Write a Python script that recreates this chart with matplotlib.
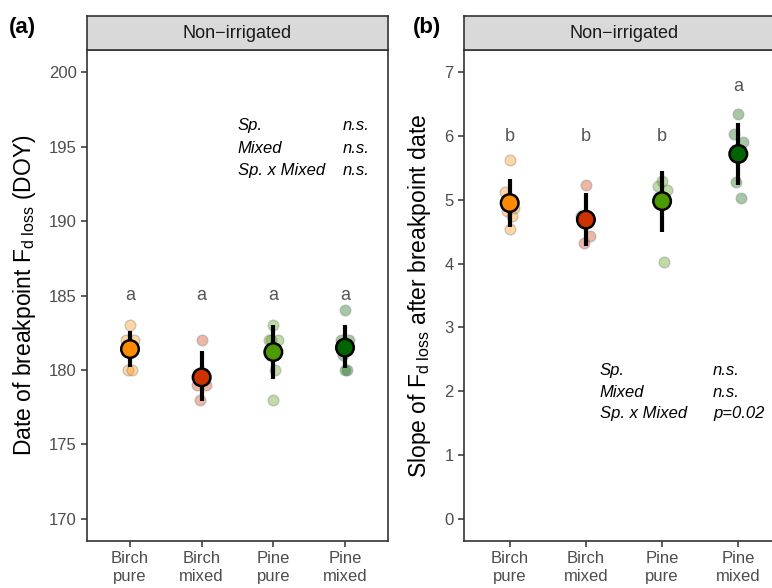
import matplotlib
matplotlib.use("Agg")
import matplotlib.pyplot as plt
import numpy as np

plt.rcParams['font.family'] = ['Liberation Sans', 'DejaVu Sans']
plt.rcParams['mathtext.fontset'] = 'custom'
plt.rcParams['mathtext.rm'] = 'Liberation Sans'
plt.rcParams['mathtext.it'] = 'Liberation Sans:italic'

# ---------------- data ----------------
categories = ["Birch\npure", "Birch\nmixed", "Pine\npure", "Pine\nmixed"]
mean_colors = ["#FF8C00", "#CC3300", "#4C9900", "#006400"]

# panel (a): date of breakpoint (DOY)
a_points = [
    [183, 182, 182, 180, 180],
    [182, 179, 179, 178],
    [183, 182, 182, 182, 180, 178],
    [184, 182, 182, 181, 180, 180],
]
a_mean = [181.4, 179.5, 181.2, 181.5]
a_low = [180.2, 177.9, 179.4, 180.1]
a_high = [182.6, 181.3, 183.0, 183.0]
a_letters = ["a", "a", "a", "a"]
a_letter_y = 185.0
a_stats = [("Sp.", "n.s."), ("Mixed", "n.s."), ("Sp. x Mixed", "n.s.")]

# panel (b): slope after breakpoint date
b_points = [
    [5.62, 5.13, 4.88, 4.82, 4.75, 4.55],
    [5.23, 4.75, 4.44, 4.32],
    [5.30, 5.22, 5.15, 5.05, 4.02],
    [6.35, 6.04, 5.90, 5.28, 5.03],
]
b_mean = [4.95, 4.69, 4.98, 5.72]
b_low = [4.58, 4.28, 4.49, 5.24]
b_high = [5.33, 5.10, 5.46, 6.21]
b_letters = ["b", "b", "b", "a"]
b_letter_y = [6.0, 6.0, 6.0, 6.77]
b_stats = [("Sp.", "n.s."), ("Mixed", "n.s."), ("Sp. x Mixed", "p=0.02")]

# ---------------- figure ----------------
W, H = 772, 588
fig = plt.figure(figsize=(W / 100, H / 100), dpi=100)

def fx(px):
    return px / W

def fy(py):
    return 1 - py / H

dark = "#333333"
tickgray = "#4D4D4D"
jit = [0.0, -0.06, 0.06, -0.03, 0.03, 0.0]


def panel(left, right, top, bottom, points, mean, low, high, ylim, yticks,
          ylabel, letters, letter_y, tag, tag_x):
    ax = fig.add_axes([fx(left), fy(bottom), fx(right - left), (bottom - top) / H])
    x = np.arange(len(categories))
    for i, pts in enumerate(points):
        xs = [x[i] + jit[k % len(jit)] for k in range(len(pts))]
        ax.scatter(xs, pts, s=60, facecolor=mean_colors[i], alpha=0.35,
                   edgecolor="#777777", linewidth=1.0, zorder=2)
    for i in range(len(categories)):
        ax.plot([x[i], x[i]], [low[i], high[i]], color="black", lw=3,
                solid_capstyle="butt", zorder=3)
    ax.scatter(x, mean, s=160, c=mean_colors, edgecolor="black",
               linewidth=1.8, zorder=4)
    ly = letter_y if isinstance(letter_y, list) else [letter_y] * len(x)
    for i in range(len(x)):
        ax.text(x[i], ly[i], letters[i], ha="center", va="center",
                fontsize=13, color="#555555")
    ax.set_xlim(-0.6, len(categories) - 0.4)
    ax.set_ylim(*ylim)
    ax.set_xticks(x)
    ax.set_xticklabels(categories, fontsize=12, color=tickgray, linespacing=1.2)
    ax.set_yticks(yticks)
    ax.set_yticklabels([str(t) for t in yticks], fontsize=12, color=tickgray)
    ax.tick_params(axis="both", direction="out", length=4, width=1.1,
                   color=dark)
    for s in ax.spines.values():
        s.set_color(dark)
        s.set_linewidth(1.2)
    ax.set_ylabel(ylabel, fontsize=16.5, color="black", labelpad=8)
    # strip
    sax = fig.add_axes([fx(left), fy(top), fx(right - left), 34 / H])
    sax.set_facecolor("#D9D9D9")
    sax.set_xticks([])
    sax.set_yticks([])
    for s in sax.spines.values():
        s.set_color(dark)
        s.set_linewidth(1.2)
    sax.text(0.5, 0.5, "Non\u2212irrigated", transform=sax.transAxes,
             ha="center", va="center", fontsize=13, color="#1A1A1A")
    fig.text(fx(tag_x), fy(28), tag, fontsize=16, fontweight="bold",
             ha="left", va="center")
    return ax


axa = panel(87, 388, 50, 541, a_points, a_mean, a_low, a_high,
            (168.5, 201.5), [170, 175, 180, 185, 190, 195, 200],
            r"Date of breakpoint F$_{\mathregular{d\ loss}}$ (DOY)",
            a_letters, a_letter_y, "(a)", 9)
for j, (lab, val) in enumerate(a_stats):
    axa.text(1.5, 196.4 - 1.5 * j, lab, style="italic", fontsize=12,
             ha="left", va="center")
    axa.text(2.97, 196.4 - 1.5 * j, val, style="italic", fontsize=12,
             ha="left", va="center")

axb = panel(464, 784, 50, 541, b_points, b_mean, b_low, b_high,
            (-0.35, 7.35), [0, 1, 2, 3, 4, 5, 6, 7],
            r"Slope of F$_{\mathregular{d\ loss}}$ after breakpoint date",
            b_letters, b_letter_y, "(b)", 413)
for j, (lab, val) in enumerate(b_stats):
    axb.text(1.18, 2.32 - 0.335 * j, lab, style="italic", fontsize=12,
             ha="left", va="center")
    axb.text(2.67, 2.32 - 0.335 * j, val, style="italic", fontsize=12,
             ha="left", va="center")

fig.savefig("out.png", dpi=100)
